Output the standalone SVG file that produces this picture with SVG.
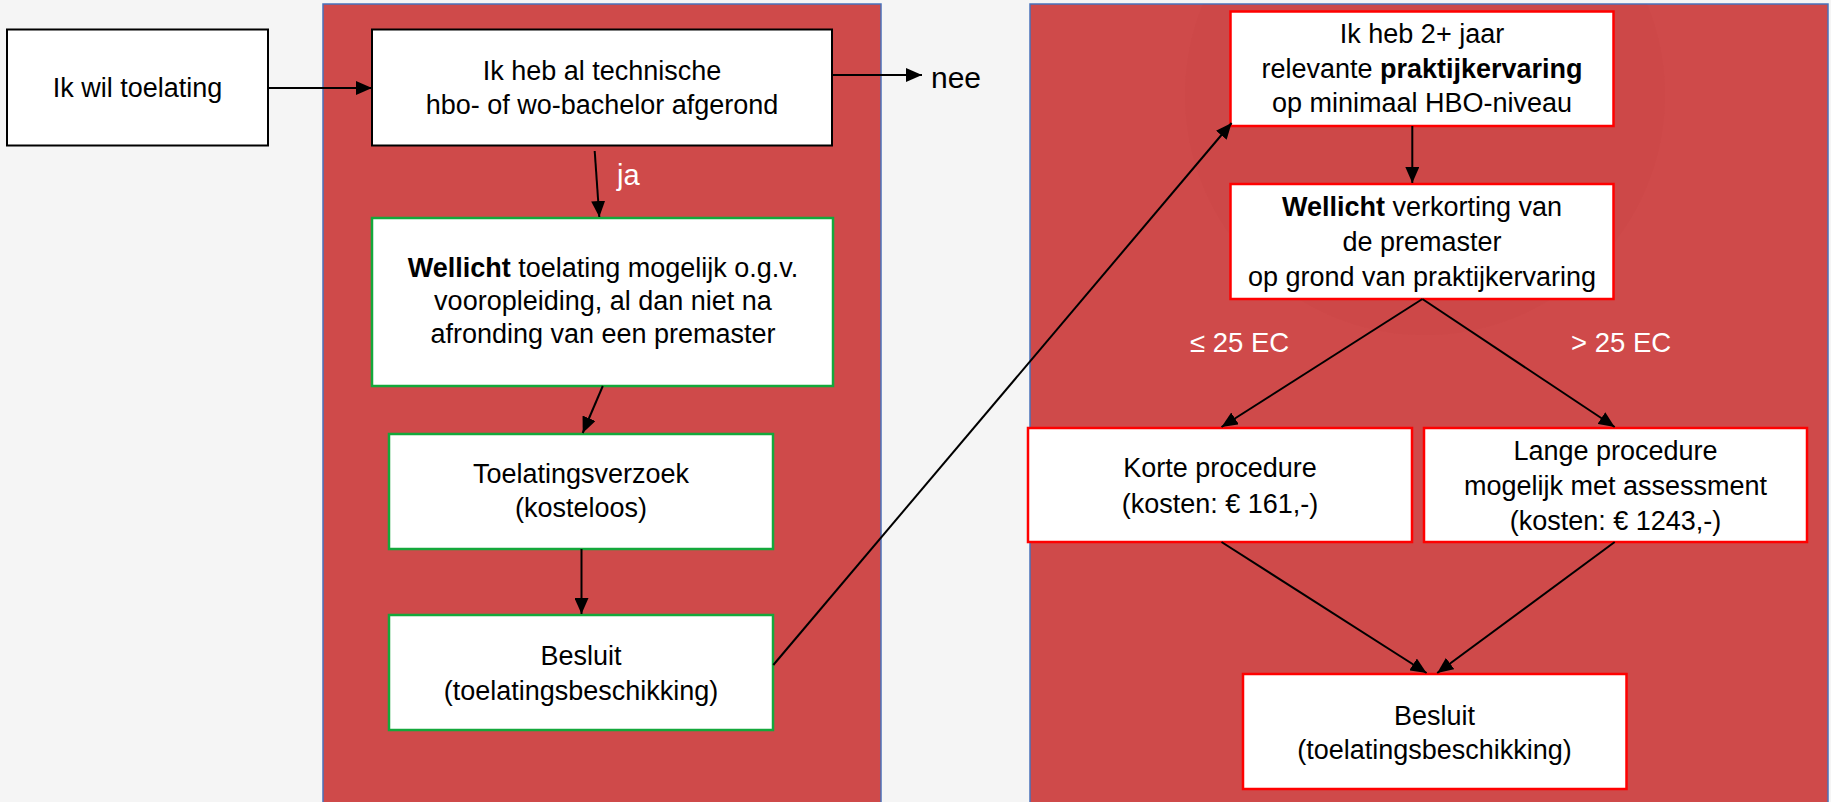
<svg xmlns="http://www.w3.org/2000/svg" width="1831" height="802" viewBox="0 0 1831 802">
<defs>
<marker id="ah" markerUnits="userSpaceOnUse" markerWidth="18" markerHeight="14" refX="16" refY="7" orient="auto">
<path d="M0,0 L16,7 L0,14 Z" fill="#000"/>
</marker>
<clipPath id="rp"><rect x="1030" y="4" width="798" height="800"/></clipPath>
</defs>
<style>
.bg{fill:#F5F5F5}
.panel{fill:#CF4A4A;stroke:#4A72BA;stroke-width:1.5}
.bk{fill:#fff;stroke:#000;stroke-width:2}
.gr{fill:#fff;stroke:#14A83C;stroke-width:2.5}
.rd{fill:#fff;stroke:#FF0000;stroke-width:2.5}
text{font-family:"Liberation Sans",Arial,sans-serif;font-size:27px;fill:#000;text-anchor:middle}
.w{fill:#fff;text-anchor:start;font-size:27.5px}
.b{font-weight:bold}
.c line{stroke:#000;stroke-width:2;marker-end:url(#ah)}
</style>
<rect class="bg" x="0" y="0" width="1831" height="802"/>
<g id="panel-left"><rect class="panel" x="323" y="4" width="558" height="800"/></g>
<g id="panel-right"><rect class="panel" x="1030" y="4" width="798" height="800"/>
<circle cx="1425" cy="95" r="240" fill="#B83C3C" opacity="0.07" clip-path="url(#rp)"/></g>

<g id="n-wil"><rect class="bk" x="7" y="29.5" width="261" height="116"/>
<text x="137.5" y="97">Ik wil toelating</text></g>

<g id="n-bachelor"><rect class="bk" x="372" y="29.5" width="460" height="116"/>
<text x="602" y="80">Ik heb al technische</text>
<text x="602" y="114">hbo- of wo-bachelor afgerond</text></g>

<text x="931" y="88" style="font-size:30px;text-anchor:start">nee</text>
<text class="w" x="617" y="185" style="font-size:29px">ja</text>

<g id="n-wellicht"><rect class="gr" x="372" y="218" width="461" height="168"/>
<text x="603" y="277"><tspan class="b">Wellicht</tspan> toelating mogelijk o.g.v.</text>
<text x="603" y="310">vooropleiding, al dan niet na</text>
<text x="603" y="343">afronding van een premaster</text></g>

<g id="n-verzoek"><rect class="gr" x="389" y="434" width="384" height="115"/>
<text x="581" y="483">Toelatingsverzoek</text>
<text x="581" y="517">(kosteloos)</text></g>

<g id="n-besluit1"><rect class="gr" x="389" y="615" width="384" height="115"/>
<text x="581" y="665">Besluit</text>
<text x="581" y="700">(toelatingsbeschikking)</text></g>

<g id="n-praktijk"><rect class="rd" x="1230.5" y="11.5" width="383" height="114.5"/>
<text x="1422" y="43">Ik heb 2+ jaar</text>
<text x="1422" y="78">relevante <tspan class="b">praktijkervaring</tspan></text>
<text x="1422" y="112">op minimaal HBO-niveau</text></g>

<g id="n-verkorting"><rect class="rd" x="1230.5" y="184" width="383" height="115"/>
<text x="1422" y="216"><tspan class="b">Wellicht</tspan> verkorting van</text>
<text x="1422" y="251">de premaster</text>
<text x="1422" y="286">op grond van praktijkervaring</text></g>

<text class="w" x="1190" y="352">≤ 25 EC</text>
<text class="w" x="1571" y="352">&gt; 25 EC</text>

<g id="n-korte"><rect class="rd" x="1028" y="428" width="384" height="114"/>
<text x="1220" y="477">Korte procedure</text>
<text x="1220" y="513">(kosten: € 161,-)</text></g>

<g id="n-lange"><rect class="rd" x="1424" y="428" width="383" height="114"/>
<text x="1615.5" y="460">Lange procedure</text>
<text x="1615.5" y="495">mogelijk met assessment</text>
<text x="1615.5" y="530">(kosten: € 1243,-)</text></g>

<g id="n-besluit2"><rect class="rd" x="1243" y="674" width="383.5" height="115"/>
<text x="1434.5" y="725">Besluit</text>
<text x="1434.5" y="759">(toelatingsbeschikking)</text></g>

<g id="connectors" class="c">
<line x1="268" y1="88" x2="372" y2="88"/>
<line x1="832" y1="75" x2="922" y2="75"/>
<line x1="594.7" y1="151" x2="599.3" y2="217"/>
<line x1="602.8" y1="386" x2="582.7" y2="433"/>
<line x1="581.5" y1="549" x2="581.5" y2="614"/>
<line x1="773.3" y1="665" x2="1231.6" y2="123"/>
<line x1="1412.3" y1="126" x2="1412.3" y2="183"/>
<line x1="1422.4" y1="299" x2="1221.5" y2="427"/>
<line x1="1422.4" y1="299" x2="1614.7" y2="427"/>
<line x1="1221.5" y1="542" x2="1426.6" y2="673"/>
<line x1="1614.7" y1="542" x2="1437.2" y2="673"/>
</g>
</svg>
